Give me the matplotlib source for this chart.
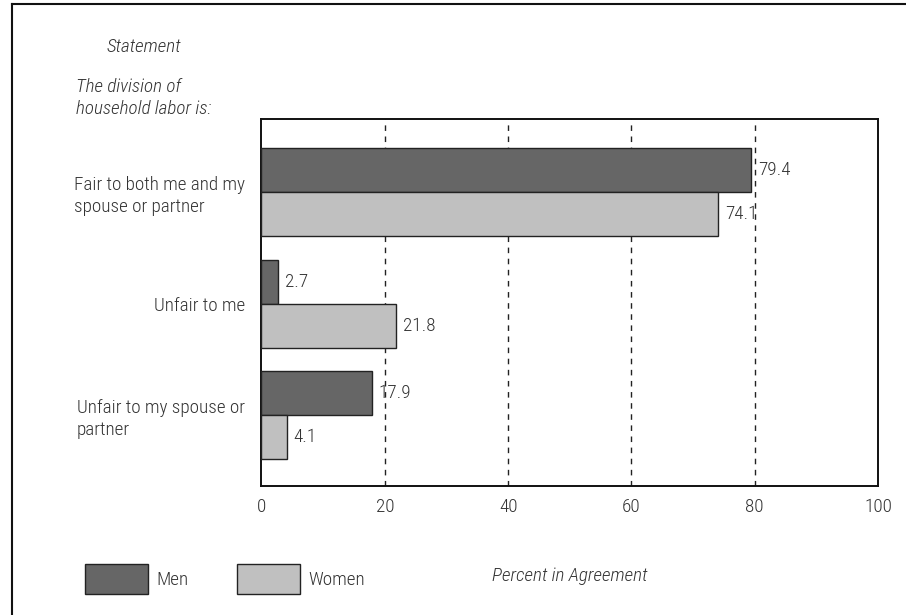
import matplotlib.pyplot as plt
from matplotlib.lines import Line2D
import numpy as np

plt.rcParams['font.family'] = ['Roboto Condensed', 'DejaVu Sans']
plt.rcParams['font.weight'] = 'light'

statements = ['Fair to both me and my\nspouse or partner', 'Unfair to me',
              'Unfair to my spouse or\npartner']
men = [79.4, 2.7, 17.9]
women = [74.1, 21.8, 4.1]
xticks = [0, 20, 40, 60, 80, 100]

txt = '#333333'
fs = 13.8

fig = plt.figure(figsize=(9.06, 6.15), dpi=100)
ax = fig.add_axes([0.2886, 0.2102, 0.6805, 0.5957])

y = np.arange(len(statements))
h = 0.395
b1 = ax.barh(y - h / 2, men, height=h, color='#666666', edgecolor='#222222', linewidth=1, label='Men', zorder=3)
b2 = ax.barh(y + h / 2, women, height=h, color='#c0c0c0', edgecolor='#222222', linewidth=1, label='Women', zorder=3)
ax.bar_label(b1, fmt='%.1f', padding=5, fontsize=fs, color=txt)
ax.bar_label(b2, fmt='%.1f', padding=5, fontsize=fs, color=txt)

ax.set_xlim(0, 100)
ax.set_ylim(2.634, -0.652)
ax.set_xticks(xticks)
ax.set_yticks(y)
ax.set_yticklabels(statements, multialignment='left', linespacing=1.3)
ax.tick_params(axis='both', length=0, labelsize=fs, labelcolor=txt)
ax.tick_params(axis='y', pad=12)
ax.tick_params(axis='x', pad=9)
for v in xticks[1:-1]:
    ax.axvline(v, color='#222222', linestyle=(0, (4, 4)), linewidth=1, zorder=1)
for s in ax.spines.values():
    s.set_linewidth(1.4)
    s.set_color('#111111')

fig.text(0.6286, 1 - 576 / 615, 'Percent in Agreement', style='italic', fontsize=fs,
         color=txt, ha='center', va='center')
fig.text(144 / 906, 1 - 47 / 615, 'Statement', style='italic', fontsize=fs,
         color=txt, ha='center', va='center')
fig.text(76 / 906, 1 - 98 / 615, 'The division of\nhousehold labor is:', style='italic',
         fontsize=fs, color=txt, ha='left', va='center', linespacing=1.25)

fig.legend(handles=[b1, b2], loc='center left', bbox_to_anchor=(75 / 906, 1 - 579 / 615),
           ncol=2, frameon=False, fontsize=fs, handlelength=3.3, handleheight=2.1,
           handletextpad=0.45, columnspacing=2.5, borderpad=0, labelcolor=txt)

# outer frame (left and top edges)
fig.add_artist(Line2D([12 / 906, 12 / 906], [0, 1 - 4 / 615], color='#111111', linewidth=1.5))
fig.add_artist(Line2D([12 / 906, 1], [1 - 4 / 615, 1 - 4 / 615], color='#111111', linewidth=1.5))

fig.savefig('out.png', dpi=100)
